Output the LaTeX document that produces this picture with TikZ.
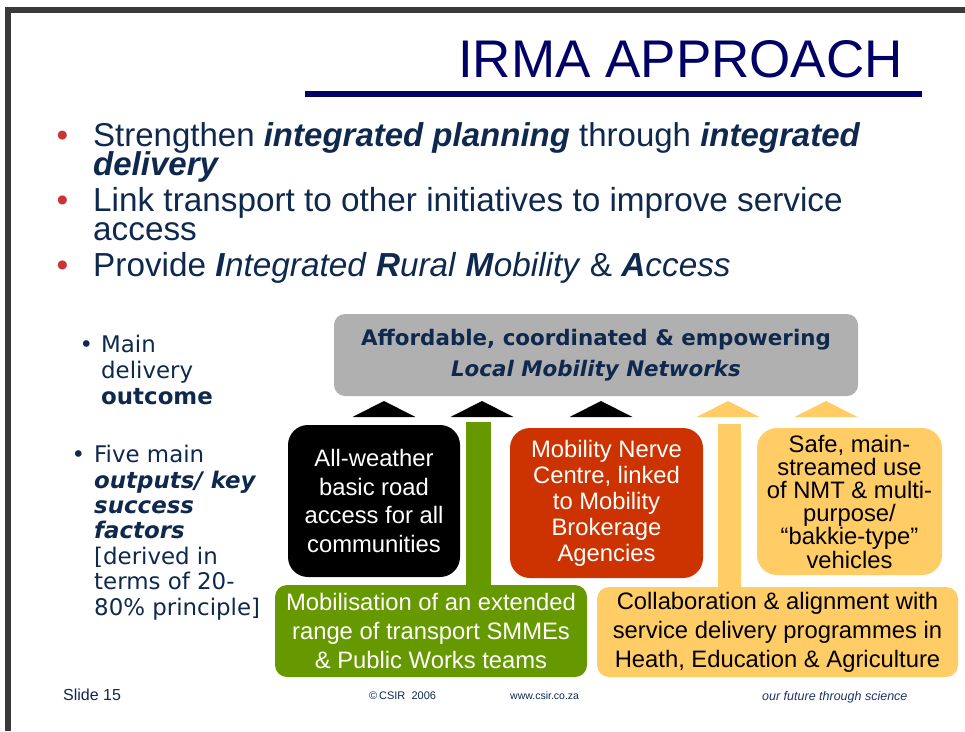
\documentclass[tikz,border=0pt]{standalone}
\usepackage{fontspec}
\setmainfont{Liberation Sans}
\newfontfamily\verdana{DejaVu Sans}
\usetikzlibrary{calc}

\definecolor{navy}{RGB}{0,0,102}
\definecolor{inkblue}{RGB}{14,40,78}
\definecolor{dotred}{RGB}{204,51,51}
\definecolor{framegrey}{RGB}{58,58,58}
\definecolor{boxgrey}{RGB}{176,176,176}
\definecolor{nerveRed}{RGB}{204,51,0}
\definecolor{smmeGreen}{RGB}{102,153,0}
\definecolor{nmtYellow}{RGB}{255,204,102}
\definecolor{mottoBlue}{RGB}{30,50,100}

% size, leading, and no extra glue between tight lines
\def\fs#1#2{\fontsize{#1}{#2}\selectfont\lineskiplimit=-100pt\lineskip=0pt}
\def\bi#1{\textbf{\textit{#1}}}

\tikzset{
  card/.style={rounded corners=#1, align=center, inner sep=0pt},
  boxtext/.style={font=\fs{23.8}{#1}},
  point/.style={anchor=base west, align=left, inner sep=0pt, text=inkblue},
  footer/.style={anchor=base west, inner sep=0pt}
}

\begin{document}
\begin{tikzpicture}[x=1pt,y=-1pt]
  %%%%% START %%%%%
  \useasboundingbox (0,0) rectangle (965,731);

  \fill[framegrey] (5,7) rectangle (965,13);
  \fill[framegrey] (5,7) rectangle (11,731);

  % heading
  \node[anchor=base east, inner sep=0pt, text=navy, font=\fs{53}{60}] (title) at (903,77) {IRMA APPROACH};
  \fill[navy] (305,91) rectangle (922,97);

  % main points (base = last line)
  \node[point, font=\fs{33}{29}] (p1) at (93,175)
    {\llap{\textcolor{dotred}{\textbullet}\hspace{25pt}}Strengthen \bi{integrated planning} through \bi{integrated}\\\bi{delivery}};
  \node[point, font=\fs{33.3}{29}] (p2) at (93,240)
    {\llap{\textcolor{dotred}{\textbullet}\hspace{25pt}}Link transport to other initiatives to improve service\\access};
  \node[point, font=\fs{33.3}{29}] (p3) at (93,276)
    {\llap{\textcolor{dotred}{\textbullet}\hspace{25pt}}Provide \bi{I}\textit{ntegrated} \bi{R}\textit{ural} \bi{M}\textit{obility} \& \bi{A}\textit{ccess}};

  % side notes
  \node[point, font=\verdana\fs{22.9}{26}] (outnote) at (101,404)
    {\llap{\textbullet\hspace{8pt}}Main\\delivery\\\textbf{outcome}};
  \node[point, font=\verdana\fs{22.9}{25.4}] (keynote) at (94,615)
    {\llap{\textbullet\hspace{9pt}}Five main\\\bi{outputs/ key}\\\bi{success}\\\bi{factors}\\{}[derived in\\terms of 20-\\80\% principle]};

  % outcome and the five outputs
  \node[card=11pt, fill=boxgrey, text=inkblue, minimum width=524pt, minimum height=82pt,
        font=\verdana\bfseries\fs{21.4}{31}] (lmn) at (596,355)
    {Affordable, coordinated \& empowering\\\textit{Local Mobility Networks}};

  \node[card=20pt, fill=black, text=white, minimum width=172pt, minimum height=152pt, boxtext=28.5] (road) at (374,501)
    {All-weather\\basic road\\access for all\\communities};
  \node[card=20pt, fill=nerveRed, text=white, minimum width=193pt, minimum height=150pt, boxtext=26] (nerve) at (606.5,503)
    {Mobility Nerve\\Centre, linked\\to Mobility\\Brokerage\\Agencies};
  \node[card=20pt, fill=nmtYellow, text=black, minimum width=185pt, minimum height=147pt, boxtext=23.2] (nmt) at (849.5,501.5)
    {Safe, main-\\streamed use\\of NMT \& multi-\\purpose/\\“bakkie-type”\\vehicles};
  \node[card=12pt, fill=smmeGreen, text=white, minimum width=312pt, minimum height=92pt, boxtext=29] (smme) at (431,631)
    {Mobilisation of an extended\\range of transport SMMEs\\\& Public Works teams};
  \node[card=12pt, fill=nmtYellow, text=black, minimum width=361pt, minimum height=90pt, boxtext=29] (collab) at (777.5,632)
    {Collaboration \& alignment with\\service delivery programmes in\\Heath, Education \& Agriculture};

  % stems from the two wide boxes
  \coordinate (gtop) at (478.5,422);
  \coordinate (ytop) at (729.5,424);
  \draw[smmeGreen, line width=25pt] (smme.north -| gtop) -- (gtop);
  \draw[nmtYellow, line width=23pt] (collab.north -| ytop) -- (ytop);

  % arrow heads under the outcome
  \foreach \x/\c in {384/black,482/black,601/black,728/nmtYellow,826/nmtYellow}
    \fill[\c] (\x-31.5,417) -- (\x,401) -- (\x+31.5,417) -- cycle;

  % footer
  \node[footer, text=inkblue, font=\fs{16}{18}] (slide) at (63,700) {Slide 15};
  \node[footer, text=inkblue, font=\fs{11}{13}] (copy) at (369,699) {\textcopyright\,CSIR\ \ 2006};
  \node[footer, text=inkblue, font=\fs{10.5}{12}] (web) at (510,699) {www.csir.co.za};
  \node[footer, text=mottoBlue, font=\itshape\fs{12.5}{14}] (motto) at (762,700) {our future through science};
  %%%%% END %%%%%
\end{tikzpicture}
\end{document}
